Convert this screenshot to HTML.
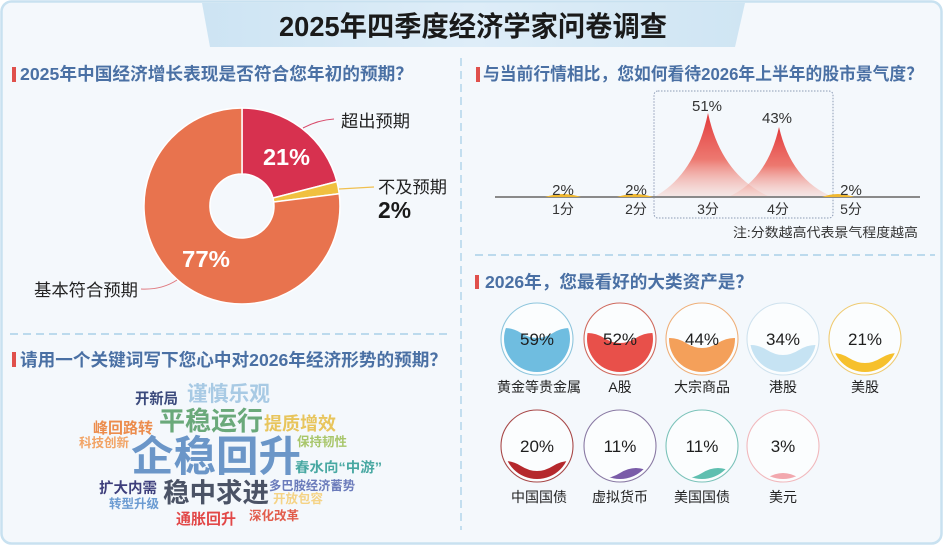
<!DOCTYPE html>
<html><head><meta charset="utf-8"><style>
html,body{margin:0;padding:0;background:#fff;}
svg{display:block;}
text{font-family:"Liberation Sans","Noto Sans CJK SC",sans-serif;}
.h{font-weight:bold;fill:#4a70a4;font-size:17.5px;}
.w{font-weight:bold;}
</style></head><body>
<svg width="944" height="547" viewBox="0 0 944 547" xmlns="http://www.w3.org/2000/svg">
<defs>
<linearGradient id="ban" x1="0" y1="0" x2="1" y2="0">
<stop offset="0" stop-color="#cde4f3"/><stop offset="0.5" stop-color="#deedf8"/><stop offset="1" stop-color="#cfe5f3"/>
</linearGradient>
<linearGradient id="pk" x1="0" y1="0" x2="0" y2="1">
<stop offset="0" stop-color="#e2393b"/><stop offset="0.55" stop-color="#ec6a60" stop-opacity="0.9"/><stop offset="1" stop-color="#f6c9c0" stop-opacity="0.35"/>
</linearGradient>
<clipPath id="c11"><circle cx="537" cy="339" r="33"/></clipPath>
<clipPath id="c12"><circle cx="620" cy="339" r="33"/></clipPath>
<clipPath id="c13"><circle cx="702" cy="339" r="33"/></clipPath>
<clipPath id="c14"><circle cx="783" cy="339" r="33"/></clipPath>
<clipPath id="c15"><circle cx="865" cy="339" r="33"/></clipPath>
<clipPath id="c21"><circle cx="537" cy="446" r="33"/></clipPath>
<clipPath id="c22"><circle cx="620" cy="446" r="33"/></clipPath>
<clipPath id="c23"><circle cx="702" cy="446" r="33"/></clipPath>
<clipPath id="c24"><circle cx="783" cy="446" r="33"/></clipPath>
</defs>

<rect x="1.5" y="1.5" width="940" height="542" rx="10" fill="#f4f8fc" stroke="#c8e1f0" stroke-width="2.5"/>
<polygon points="202,3 745,3 735,47 210,47" fill="url(#ban)"/>
<text x="473" y="36" text-anchor="middle" textLength="388" lengthAdjust="spacingAndGlyphs" style="font-size:28px;font-weight:bold;fill:#1a1a1a;">2025年四季度经济学家问卷调查</text>

<line x1="461" y1="58" x2="461" y2="530" stroke="#a9d0e8" stroke-width="1.3" stroke-dasharray="8,5"/>
<line x1="10" y1="334" x2="447" y2="334" stroke="#a9d0e8" stroke-width="1.5" stroke-dasharray="8,5"/>
<line x1="475" y1="255" x2="935" y2="255" stroke="#a9d0e8" stroke-width="1.5" stroke-dasharray="8,5"/>

<rect x="12" y="67" width="4" height="15" fill="#e0504c"/>
<text class="h" x="20" y="80" textLength="393" lengthAdjust="spacingAndGlyphs">2025年中国经济增长表现是否符合您年初的预期？</text>
<rect x="12" y="352" width="4" height="15" fill="#e0504c"/>
<text class="h" x="20" y="366" textLength="427" lengthAdjust="spacingAndGlyphs">请用一个关键词写下您心中对2026年经济形势的预期？</text>
<rect x="476" y="67" width="4" height="15" fill="#e0504c"/>
<text class="h" x="483" y="80" textLength="440" lengthAdjust="spacingAndGlyphs">与当前行情相比，您如何看待2026年上半年的股市景气度？</text>
<rect x="475" y="275" width="4" height="14" fill="#e0504c"/>
<text class="h" x="485" y="288" textLength="268" lengthAdjust="spacingAndGlyphs">2026年，您最看好的大类资产是？</text>

<path d="M242,108 A98,98 0 0 1 336.9,181.6 L273.0,198.0 A32,32 0 0 0 242,174 Z" fill="#d7314f" stroke="#fff" stroke-width="1.5"/>
<path d="M336.9,181.6 A98,98 0 0 1 339.2,193.7 L273.7,202.0 A32,32 0 0 0 273.0,198.0 Z" fill="#f0c040" stroke="#fff" stroke-width="1.5"/>
<path d="M339.2,193.7 A98,98 0 1 1 242,108 L242,174 A32,32 0 1 0 273.7,202.0 Z" fill="#e8734e" stroke="#fff" stroke-width="1.5"/>
<text x="263" y="165" textLength="47" lengthAdjust="spacingAndGlyphs" style="font-size:23px;font-weight:bold;fill:#fff;">21%</text>
<text x="182" y="267" textLength="48" lengthAdjust="spacingAndGlyphs" style="font-size:23px;font-weight:bold;fill:#fff;">77%</text>
<path d="M303,128 Q318,120 334,119" fill="none" stroke="#d84a6a" stroke-width="1"/>
<path d="M339,189 L374,187" fill="none" stroke="#f0c050" stroke-width="1.2"/>
<path d="M141,289 Q162,290 177,280" fill="none" stroke="#e07a80" stroke-width="1"/>
<text x="341" y="127" textLength="69" lengthAdjust="spacingAndGlyphs" style="font-size:17px;fill:#222;">超出预期</text>
<text x="378" y="193" textLength="69" lengthAdjust="spacingAndGlyphs" style="font-size:17px;fill:#222;">不及预期</text>
<text x="378" y="218" textLength="33" lengthAdjust="spacingAndGlyphs" style="font-size:23px;font-weight:bold;fill:#1a1a1a;">2%</text>
<text x="34" y="296" textLength="104" lengthAdjust="spacingAndGlyphs" style="font-size:17px;fill:#222;">基本符合预期</text>

<rect x="654" y="91" width="179" height="127" rx="4" fill="none" stroke="#8d9bb5" stroke-width="1" stroke-dasharray="1.5,1.5"/>
<path d="M654,197 Q695,175 708,113 Q721,175 770,197 Z" fill="url(#pk)"/>
<path d="M728,197 Q767,180 779,127 Q791,180 833,197 Z" fill="url(#pk)"/>
<line x1="495" y1="197" x2="920" y2="197" stroke="#8a8a8a" stroke-width="2"/>
<path d="M545,197 Q563,191 581,197 Z" fill="#f0b830"/>
<path d="M617,197 Q635,191 653,197 Z" fill="#f0b830"/>
<path d="M822,197 Q838,191 854,197 Z" fill="#f0b830"/>
<g style="font-size:15px;fill:#333;" text-anchor="middle">
<text x="563" y="195">2%</text>
<text x="636" y="195">2%</text>
<text x="851" y="195">2%</text>
<text x="707" y="111">51%</text>
<text x="777" y="123">43%</text>
</g>
<g style="font-size:14px;fill:#333;" text-anchor="middle">
<text x="563" y="214">1分</text>
<text x="636" y="214">2分</text>
<text x="708" y="214">3分</text>
<text x="778" y="214">4分</text>
<text x="851" y="214">5分</text>
</g>
<text x="733" y="237" textLength="185" lengthAdjust="spacingAndGlyphs" style="font-size:13px;fill:#333;">注:分数越高代表景气程度越高</text>

<g stroke-width="1.1">
<circle cx="537" cy="339" r="36" fill="#fbfdfe" stroke="#8fc6dd"/>
<circle cx="620" cy="339" r="36" fill="#fbfdfe" stroke="#cf6a5e"/>
<circle cx="702" cy="339" r="36" fill="#fbfdfe" stroke="#efb07a"/>
<circle cx="783" cy="339" r="36" fill="#fbfdfe" stroke="#cfe2ee"/>
<circle cx="865" cy="339" r="36" fill="#fbfdfe" stroke="#efcb72"/>
<circle cx="537" cy="446" r="36" fill="#fbfdfe" stroke="#a84848"/>
<circle cx="620" cy="446" r="36" fill="#fbfdfe" stroke="#8a7aa4"/>
<circle cx="702" cy="446" r="36" fill="#fbfdfe" stroke="#7cc3ba"/>
<circle cx="783" cy="446" r="36" fill="#fbfdfe" stroke="#f1b9bd"/>
</g>
<path clip-path="url(#c11)" d="M489,333 q16,-10 32,0 t32,0 t32,0 V380 H489 Z" fill="#6fbde0"/>
<path clip-path="url(#c12)" d="M572,338 q16,-10 32,0 t32,0 t32,0 V380 H572 Z" fill="#e8504a"/>
<path clip-path="url(#c13)" d="M654,343 q16,-10 32,0 t32,0 t32,0 V380 H654 Z" fill="#f4a05a"/>
<path clip-path="url(#c14)" d="M735,350 q16,-10 32,0 t32,0 t32,0 V380 H735 Z" fill="#c6e3f3"/>
<path clip-path="url(#c15)" d="M817,358 q16,-10 32,0 t32,0 t32,0 V380 H817 Z" fill="#f6c02c"/>
<path clip-path="url(#c21)" d="M489,466 q16,-10 32,0 t32,0 t32,0 V490 H489 Z" fill="#b5282c"/>
<path clip-path="url(#c22)" d="M556,473 q16,-10 32,0 t32,0 t32,0 t32,0 V490 H556 Z" fill="#7a5ca8"/>
<path clip-path="url(#c23)" d="M638,473 q16,-10 32,0 t32,0 t32,0 t32,0 V490 H638 Z" fill="#5fbfb0"/>
<path clip-path="url(#c24)" d="M703,478 q16,-10 32,0 t32,0 t32,0 t32,0 t32,0 V490 H703 Z" fill="#f2a8ae"/>

<g style="font-size:17px;fill:#1e1e1e;" text-anchor="middle">
<text x="537" y="345">59%</text>
<text x="620" y="345">52%</text>
<text x="702" y="345">44%</text>
<text x="783" y="345">34%</text>
<text x="865" y="345">21%</text>
<text x="537" y="452">20%</text>
<text x="620" y="452">11%</text>
<text x="702" y="452">11%</text>
<text x="783" y="452">3%</text>
</g>
<g style="font-size:14px;fill:#222;" text-anchor="middle">
<text x="539" y="392">黄金等贵金属</text>
<text x="620" y="392">A股</text>
<text x="702" y="392">大宗商品</text>
<text x="783" y="392">港股</text>
<text x="865" y="392">美股</text>
<text x="539" y="502">中国国债</text>
<text x="620" y="502">虚拟货币</text>
<text x="702" y="502">美国国债</text>
<text x="783" y="502">美元</text>
</g>

<g class="w">
<text x="135" y="403.5" textLength="43" lengthAdjust="spacingAndGlyphs" style="font-size:15px;fill:#3b4a7c;font-weight:bold;">开新局</text>
<text x="187" y="401" textLength="83" lengthAdjust="spacingAndGlyphs" style="font-size:21px;fill:#a8cae4;font-weight:bold;">谨慎乐观</text>
<text x="159" y="430" textLength="104" lengthAdjust="spacingAndGlyphs" style="font-size:26px;fill:#6aa97a;font-weight:bold;">平稳运行</text>
<text x="264" y="430" textLength="72" lengthAdjust="spacingAndGlyphs" style="font-size:18px;fill:#e8c55c;font-weight:bold;">提质增效</text>
<text x="93" y="433" textLength="60" lengthAdjust="spacingAndGlyphs" style="font-size:15px;fill:#ec8c4c;font-weight:bold;">峰回路转</text>
<text x="79" y="447" textLength="50" lengthAdjust="spacingAndGlyphs" style="font-size:12.5px;fill:#f2a466;font-weight:bold;">科技创新</text>
<text x="131" y="471" textLength="170" lengthAdjust="spacingAndGlyphs" style="font-size:42px;fill:#6b96c8;font-weight:bold;">企稳回升</text>
<text x="297" y="446" textLength="50" lengthAdjust="spacingAndGlyphs" style="font-size:12.5px;fill:#a8c66a;font-weight:bold;">保持韧性</text>
<text x="295" y="472" textLength="87" lengthAdjust="spacingAndGlyphs" style="font-size:13.5px;fill:#48a8a2;font-weight:bold;">春水向“中游”</text>
<text x="269" y="490" textLength="86" lengthAdjust="spacingAndGlyphs" style="font-size:12.5px;fill:#6b7bbb;font-weight:bold;">多巴胺经济蓄势</text>
<text x="163" y="502" textLength="106" lengthAdjust="spacingAndGlyphs" style="font-size:26.5px;fill:#4b5366;font-weight:bold;">稳中求进</text>
<text x="99" y="493" textLength="58" lengthAdjust="spacingAndGlyphs" style="font-size:14.5px;fill:#3e3f7c;font-weight:bold;">扩大内需</text>
<text x="109" y="508" textLength="50" lengthAdjust="spacingAndGlyphs" style="font-size:12.5px;fill:#6b9bd2;font-weight:bold;">转型升级</text>
<text x="273" y="503" textLength="50" lengthAdjust="spacingAndGlyphs" style="font-size:12.5px;fill:#f5d386;font-weight:bold;">开放包容</text>
<text x="249" y="520" textLength="50" lengthAdjust="spacingAndGlyphs" style="font-size:12.5px;fill:#e25c4c;font-weight:bold;">深化改革</text>
<text x="176" y="524" textLength="60" lengthAdjust="spacingAndGlyphs" style="font-size:15px;fill:#e24848;font-weight:bold;">通胀回升</text>
</g>
</svg>
</body></html>
